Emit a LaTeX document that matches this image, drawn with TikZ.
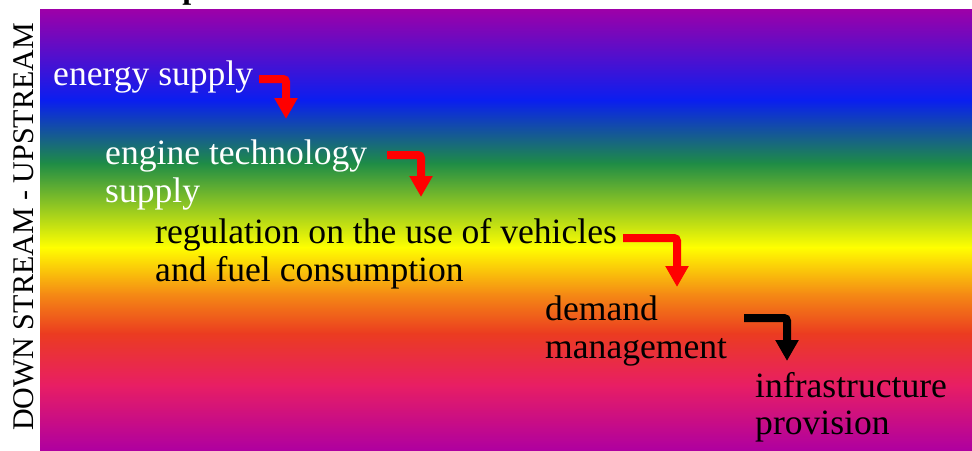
\documentclass[tikz,border=0pt]{standalone}
\usepackage{fontspec}
\setmainfont{Liberation Serif}
\usetikzlibrary{arrows.meta}
\definecolor{gA}{RGB}{158,0,168}
\definecolor{gB}{RGB}{10,30,240}
\definecolor{gC}{RGB}{30,140,70}
\definecolor{gD}{RGB}{255,255,0}
\definecolor{gE}{RGB}{245,140,20}
\definecolor{gF}{RGB}{235,60,32}
\definecolor{gG}{RGB}{232,30,100}
\definecolor{gH}{RGB}{175,0,160}
\definecolor{arrred}{RGB}{255,0,0}
\begin{document}
\begin{tikzpicture}[x=1pt,y=-1pt,
  lbl/.style={anchor=base west,inner sep=0pt,font=\fontsize{35.6}{42}\selectfont},
  bentarrow/.style={line width=8pt,-{Triangle[width=22pt,length=21pt]},rounded corners=3pt}]
\useasboundingbox (0,0) rectangle (972,450);
% gradient background
\shade[top color=gA,bottom color=gB] (40,9) rectangle (972,100.5);
\shade[top color=gB,bottom color=gC] (40,100) rectangle (972,163.5);
\shade[top color=gC,bottom color=gD] (40,163) rectangle (972,247.5);
\shade[top color=gD,bottom color=gE] (40,247) rectangle (972,293.5);
\shade[top color=gE,bottom color=gF] (40,293) rectangle (972,333.5);
\shade[top color=gF,bottom color=gG] (40,333) rectangle (972,385.5);
\shade[top color=gG,bottom color=gH] (40,385) rectangle (972,450);
% cut-off title
\node[anchor=base west,inner sep=0pt,font=\fontsize{32}{38}\selectfont\bfseries] (ttl) at (95,-2) {development};
% side label
\node[anchor=base west,inner sep=0pt,rotate=90,font=\fontsize{30}{36}\selectfont] (side) at (34,431) {DOWN STREAM - UPSTREAM};
% labels
\node[lbl,white] (es) at (53,85) {energy supply};
\node[lbl,white] (et1) at (105,164) {engine technology};
\node[lbl,white] (et2) at (105,202) {supply};
\node[lbl] (rg1) at (155,243) {regulation on the use of vehicles};
\node[lbl] (rg2) at (155,281) {and fuel consumption};
\node[lbl] (dm1) at (545,320) {demand};
\node[lbl] (dm2) at (545,358) {management};
\node[lbl] (ip1) at (755,397) {infrastructure};
\node[lbl] (ip2) at (755,434) {provision};
% arrows
\coordinate (s1) at (259,79);  \coordinate (t1) at (286,119);
\coordinate (s2) at (387,155); \coordinate (t2) at (421,197);
\coordinate (s3) at (623,238); \coordinate (t3) at (677,287);
\coordinate (s4) at (744,318); \coordinate (t4) at (787,361);
\draw[bentarrow,arrred] (s1) -| (t1);
\draw[bentarrow,arrred] (s2) -| (t2);
\draw[bentarrow,arrred] (s3) -| (t3);
\draw[bentarrow,black] (s4) -| (t4);
\end{tikzpicture}
\end{document}
